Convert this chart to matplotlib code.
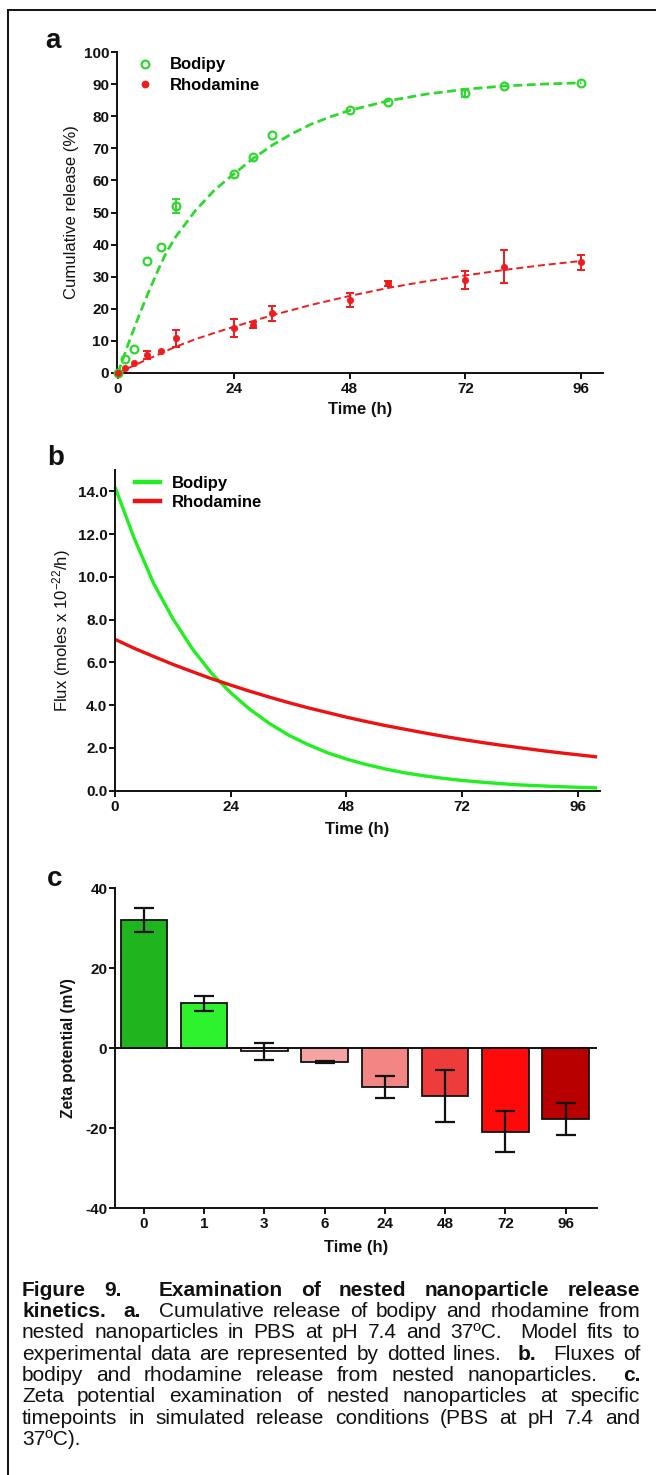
#!/usr/bin/env python3
"""Nested nanoparticle release kinetics: cumulative release, flux and zeta potential."""

from __future__ import annotations

import matplotlib

matplotlib.use("Agg")
import matplotlib.pyplot as plt
from matplotlib.lines import Line2D

W, H = 656, 1475

GREEN = "#2fd82f"
RED = "#ee1c1c"
FLUX_GREEN = "#22ee22"
FLUX_RED = "#ee1111"
INK = "#111111"

# panel a: cumulative release (%)
RELEASE_T = [0, 1.5, 3.3, 6, 9, 12, 24, 28, 32, 48, 56, 72, 80, 96]
BODIPY_RELEASE = [0, 4.3, 7.5, 34.9, 39.2, 52.0, 62.0, 67.4, 74.1, 81.9, 84.5, 87.3, 89.4, 90.2]
BODIPY_ERR = [0, 0, 0, 0, 0, 2.2, 0, 0, 0, 0, 0, 1.2, 0, 0]
RHOD_RELEASE = [0, 1.5, 3.0, 5.6, 6.9, 10.8, 13.9, 15.0, 18.6, 22.7, 27.9, 29.0, 33.1, 34.5]
RHOD_ERR = [0, 0, 0, 1.2, 0, 2.6, 2.8, 1.0, 2.3, 2.2, 0.8, 2.7, 5.2, 2.3]

# panel a: model fit curves (dashed)
FIT_T = [0, 2, 4, 6, 8, 10, 12, 16, 20, 24, 28, 32, 36, 40, 44, 48, 56, 64, 72, 80, 88, 96]
BODIPY_FIT = [0, 8.5, 16.5, 24.0, 31.0, 37.5, 42.5, 50.5, 57.0, 62.0, 66.8, 71.0, 74.5, 77.5,
              79.8, 81.8, 84.8, 86.9, 88.4, 89.4, 90.0, 90.4]
RHOD_FIT = [0, 1.4, 2.8, 4.2, 5.5, 6.9, 8.2, 10.5, 12.5, 14.4, 16.2, 18.0, 19.6, 21.2,
            22.6, 24.0, 26.5, 28.6, 30.4, 32.1, 33.6, 34.9]

# panel b: flux (moles x 1e-22 / h)
FLUX_T = [0, 4, 8, 12, 16, 20, 24, 28, 32, 36, 40, 44, 48, 52, 56, 60, 64, 68, 72, 76, 80,
          84, 88, 92, 96, 100]
BODIPY_FLUX = [14.20, 11.80, 9.70, 8.05, 6.65, 5.50, 4.58, 3.80, 3.15, 2.60, 2.16, 1.78, 1.48,
               1.23, 1.02, 0.84, 0.70, 0.58, 0.48, 0.40, 0.33, 0.27, 0.23, 0.19, 0.16, 0.13]
RHOD_FLUX = [7.08, 6.66, 6.28, 5.91, 5.57, 5.24, 4.94, 4.65, 4.38, 4.12, 3.88, 3.66, 3.44,
             3.24, 3.05, 2.88, 2.71, 2.55, 2.40, 2.26, 2.13, 2.01, 1.89, 1.78, 1.68, 1.58]

# panel c: zeta potential (mV)
ZETA_LABELS = ["0", "1", "3", "6", "24", "48", "72", "96"]
ZETA_MEAN = [32.1, 11.25, -0.7, -3.4, -9.6, -11.85, -20.8, -17.7]
ZETA_ERR = [3.1, 1.95, 2.1, 0.35, 2.8, 6.45, 5.1, 4.0]
ZETA_COLORS = ["#1fb51f", "#2ef22e", "#fbe5e5", "#f5a3a3", "#f38585", "#ee3b3b", "#ff0a0a", "#b80000"]

CAPTION = [
    "*Figure* *9.*  *Examination* *of* *nested* *nanoparticle* *release*",
    "*kinetics.*  *a.*  Cumulative release of bodipy and rhodamine from",
    "nested nanoparticles in PBS at pH 7.4 and 37\u00baC.  Model fits to",
    "experimental data are represented by dotted lines.  *b.*  Fluxes of",
    "bodipy and rhodamine release from nested nanoparticles.  *c.*",
    "Zeta potential examination of nested nanoparticles at specific",
    "timepoints in simulated release conditions (PBS at pH 7.4 and",
    "37\u00baC).",
]


def px_axes(fig, left, top, right, bottom):
    return fig.add_axes([left / W, 1 - bottom / H, (right - left) / W, (bottom - top) / H])


def style_axes(ax):
    for side in ("top", "right"):
        ax.spines[side].set_visible(False)
    for side in ("left", "bottom"):
        ax.spines[side].set_linewidth(1.4)
        ax.spines[side].set_color(INK)
    ax.tick_params(direction="out", length=4, width=1.4, colors=INK, labelsize=11)
    ax.tick_params(axis="x", pad=2.5)
    ax.tick_params(axis="y", pad=1.5)
    for label in ax.get_xticklabels() + ax.get_yticklabels():
        label.set_fontweight("bold")


def errorbar_points(ax, t, y, err, color, **marker):
    sel = [i for i, e in enumerate(err) if e > 0]
    eb = ax.errorbar([t[i] for i in sel], [y[i] for i in sel], yerr=[err[i] for i in sel],
                     fmt="none", ecolor=color, elinewidth=1.4, capsize=2.8, capthick=1.4, zorder=3)
    for artist in eb.get_children():
        artist.set_clip_on(False)
    ax.plot(t, y, ls="none", marker="o", clip_on=False, zorder=4, **marker)


def draw_release(ax):
    ax.plot(FIT_T, BODIPY_FIT, color=GREEN, lw=2.0, dashes=(3.2, 1.6), zorder=2)
    ax.plot(FIT_T, RHOD_FIT, color=RED, lw=1.4, dashes=(3.6, 2.0), zorder=2)
    errorbar_points(ax, RELEASE_T, BODIPY_RELEASE, BODIPY_ERR, GREEN,
                    ms=5.6, mfc="none", mec=GREEN, mew=1.6)
    errorbar_points(ax, RELEASE_T, RHOD_RELEASE, RHOD_ERR, RED,
                    ms=4.6, mfc=RED, mec=RED, mew=0.5)
    ax.set_xlim(-0.2, 100.5)
    ax.set_ylim(0, 100)
    ax.set_xticks([0, 24, 48, 72, 96])
    ax.set_yticks(range(0, 101, 10))
    handles = [
        Line2D([], [], ls="none", marker="o", ms=5.6, mfc="none", mec=GREEN, mew=1.6),
        Line2D([], [], ls="none", marker="o", ms=4.6, mfc=RED, mec=RED),
    ]
    ax.legend(handles, ["Bodipy", "Rhodamine"], loc="upper left", bbox_to_anchor=(0.0405, 0.983),
              frameon=False, borderpad=0, borderaxespad=0, handlelength=1.0, handletextpad=1.0,
              labelspacing=0.32, prop={"weight": "bold", "size": 12})
    style_axes(ax)
    ax.set_xlabel("Time (h)", fontsize=12, fontweight="bold", color=INK)
    ax.xaxis.set_label_coords(0.5, -0.090)
    ax.set_ylabel("Cumulative release (%)", fontsize=12, color=INK)
    ax.yaxis.set_label_coords(-0.078, 0.5)


def draw_flux(ax):
    ax.plot(FLUX_T, BODIPY_FLUX, color=FLUX_GREEN, lw=2.4, solid_capstyle="butt", clip_on=False)
    ax.plot(FLUX_T, RHOD_FLUX, color=FLUX_RED, lw=2.4, solid_capstyle="butt", clip_on=False)
    ax.set_xlim(0, 100.6)
    ax.set_ylim(0, 15)
    ax.set_xticks([0, 24, 48, 72, 96])
    ax.set_yticks(range(0, 15, 2))
    ax.set_yticklabels([f"{v:.1f}" for v in range(0, 15, 2)])
    handles = [Line2D([], [], color=FLUX_GREEN, lw=3.2), Line2D([], [], color=FLUX_RED, lw=3.2)]
    ax.legend(handles, ["Bodipy", "Rhodamine"], loc="upper left", bbox_to_anchor=(0.0412, 0.982),
              frameon=False, borderpad=0, borderaxespad=0, handlelength=1.5, handletextpad=0.72,
              labelspacing=0.26, prop={"weight": "bold", "size": 12})
    style_axes(ax)
    ax.set_xlabel("Time (h)", fontsize=12, fontweight="bold", color=INK)
    ax.xaxis.set_label_coords(0.5, -0.0976)
    ax.set_ylabel(r"Flux (moles x 10$^{\mathrm{-22}}$/h)", fontsize=12, color=INK)
    ax.yaxis.set_label_coords(-0.0866, 0.5)


def draw_zeta(ax):
    x = list(range(len(ZETA_LABELS)))
    ax.bar(x, ZETA_MEAN, width=0.77, color=ZETA_COLORS, edgecolor=INK, linewidth=1.3, zorder=2)
    ax.axhline(0, color=INK, lw=1.4, zorder=2.5)
    ax.errorbar(x, ZETA_MEAN, yerr=ZETA_ERR, fmt="none", ecolor=INK, elinewidth=1.6,
                capsize=7.2, capthick=1.6, zorder=3)
    ax.set_xlim(-0.48, 7.52)
    ax.set_ylim(-40, 40)
    ax.set_xticks(x)
    ax.set_xticklabels(ZETA_LABELS)
    ax.set_yticks([-40, -20, 0, 20, 40])
    style_axes(ax)
    ax.set_xlabel("Time (h)", fontsize=12, fontweight="bold", color=INK)
    ax.xaxis.set_label_coords(0.5, -0.099)
    ax.set_ylabel("Zeta potential (mV)", fontsize=11.2, fontweight="bold", color=INK)
    ax.yaxis.set_label_coords(-0.081, 0.5)


def justified_caption(fig, lines, x0, x1, baseline0, step, size):
    renderer = fig.canvas.get_renderer()
    space = 0.278 * size * fig.dpi / 72
    for i, line in enumerate(lines):
        y = 1 - (baseline0 + i * step) / H
        items = []
        pending = 0
        for tok in line.split(" "):
            if not tok:
                pending += 1
                continue
            bold = tok.startswith("*")
            word = tok.strip("*")
            txt = fig.text(0, y, word, fontsize=size, fontweight="bold" if bold else "normal",
                           va="baseline", ha="left", color=INK)
            width = txt.get_window_extent(renderer).width
            items.append((txt, width, pending + 1 if items else 0))
            pending = 0
        total_w = sum(it[1] for it in items)
        total_gap = sum(it[2] for it in items)
        unit = space if (i == len(lines) - 1 or total_gap == 0) else (x1 - x0 - total_w) / total_gap
        x = x0
        for txt, width, gap in items:
            x += gap * unit
            txt.set_x(x / W)
            x += width


def main() -> None:
    plt.rcParams["font.family"] = ["Liberation Sans", "DejaVu Sans"]
    plt.rcParams["mathtext.fontset"] = "custom"
    plt.rcParams["mathtext.rm"] = "Liberation Sans"
    plt.rcParams["mathtext.it"] = "Liberation Sans:italic"
    plt.rcParams["mathtext.bf"] = "Liberation Sans:bold"
    plt.rcParams["axes.unicode_minus"] = False

    fig = plt.figure(figsize=(W / 100, H / 100), dpi=100)
    fig.patch.set_facecolor("white")

    draw_release(px_axes(fig, 117, 52, 603, 373))
    draw_flux(px_axes(fig, 115, 470, 600, 790.7))
    draw_zeta(px_axes(fig, 115, 888.3, 597, 1208.3))

    for letter, x, base in (("a", 45, 48), ("b", 47, 465), ("c", 47, 886)):
        fig.text(x / W, 1 - base / H, letter, fontsize=20, fontweight="bold", color=INK, va="baseline")

    # page frame: left and top rule
    fig.add_artist(Line2D([8 / W, 8 / W], [1 - 10 / H, 0], transform=fig.transFigure, color=INK, lw=1.4))
    fig.add_artist(Line2D([8 / W, 1], [1 - 10 / H, 1 - 10 / H], transform=fig.transFigure, color=INK, lw=1.4))

    justified_caption(fig, CAPTION, 22, 640, 1295.5, 21.4, 15)

    fig.savefig("out.png", dpi=100, facecolor="white")
    plt.close(fig)


if __name__ == "__main__":
    main()
